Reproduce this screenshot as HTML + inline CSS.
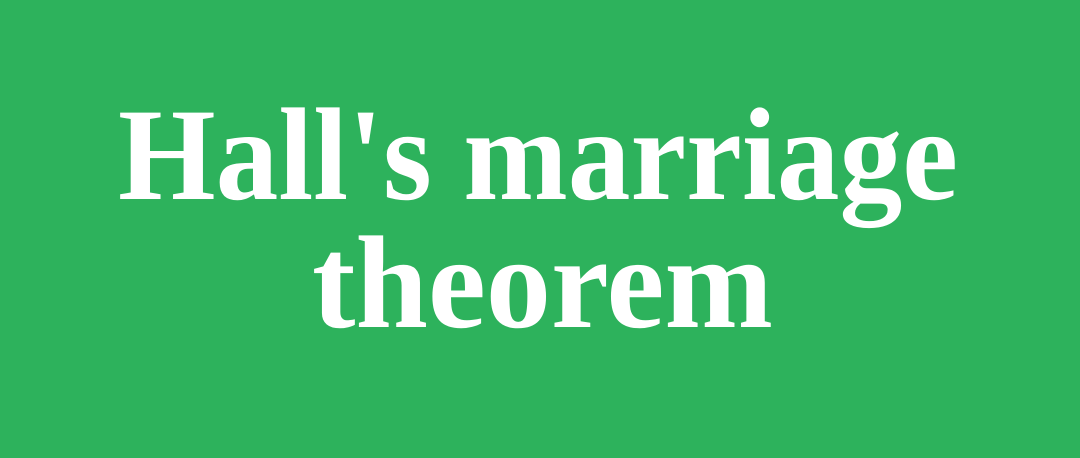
<!DOCTYPE html>
<html><head><meta charset="utf-8"><style>
html,body{margin:0;padding:0;width:1080px;height:458px;overflow:hidden;background:#2db25c}
svg{display:block}
</style></head><body>
<svg width="1080" height="458" viewBox="0 0 1080 458">
<rect x="0" y="0" width="1080" height="458" fill="#2db25c"/>
<text x="118" y="199" textLength="840" lengthAdjust="spacingAndGlyphs" font-family="'Liberation Serif', serif" font-weight="bold" font-size="132" fill="#ffffff">Hall's marriage</text>
<text x="312" y="327" textLength="461" lengthAdjust="spacingAndGlyphs" font-family="'Liberation Serif', serif" font-weight="bold" font-size="132" fill="#ffffff">theorem</text>
</svg>
</body></html>
